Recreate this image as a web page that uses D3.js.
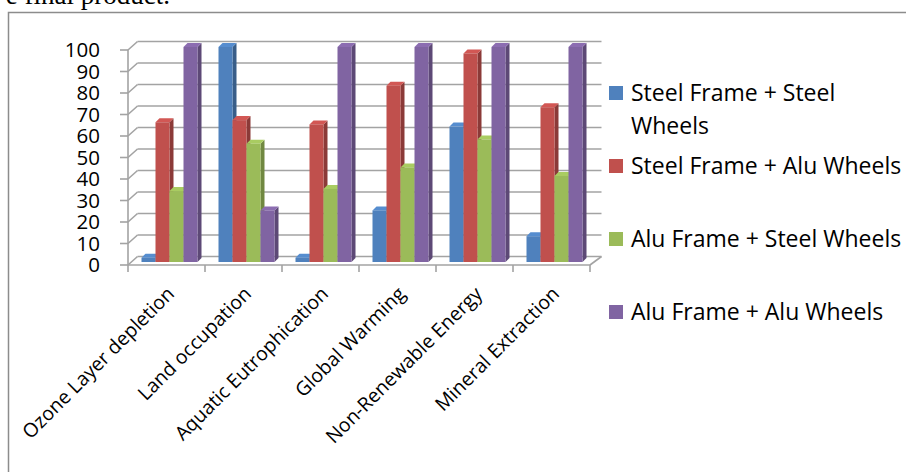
<!DOCTYPE html>
<html>
<head>
<meta charset="utf-8">
<script src="https://cdn.jsdelivr.net/npm/d3@7/dist/d3.min.js"></script>
<style>
  body { margin: 0; background: #fff; }
  svg { display: block; font-family: "Open Sans", sans-serif; }
</style>
</head>
<body>
<svg id="chart"></svg>
<script>
// chart values
var categories = ['Ozone Layer depletion', 'Land occupation', 'Aquatic Eutrophication',
  'Global Warming', 'Non-Renewable Energy', 'Mineral Extraction'];
var seriesNames = ['Steel Frame + Steel Wheels', 'Steel Frame + Alu Wheels',
  'Alu Frame + Steel Wheels', 'Alu Frame + Alu Wheels'];
var steelSteel = [2, 100, 2, 24, 63, 12];
var steelAlu = [65, 66, 64, 82, 97, 72];
var aluSteel = [33, 55, 34, 44, 57, 40];
var aluAlu = [100, 24, 100, 100, 100, 100];
var yTicks = [0, 10, 20, 30, 40, 50, 60, 70, 80, 90, 100];
var legendLines = [['Steel Frame + Steel', 'Wheels'], ['Steel Frame + Alu Wheels'],
  ['Alu Frame + Steel Wheels'], ['Alu Frame + Alu Wheels']];
var colors = ['#4f81bd', '#c0504d', '#9bbb59', '#8064a2'];

var seriesValues = [steelSteel, steelAlu, aluSteel, aluAlu];

var canvasWidth = 906;
var canvasHeight = 472;
var svg = d3.select('#chart')
  .attr('width', canvasWidth)
  .attr('height', canvasHeight);

// page text above the chart frame (cut off at the top)
svg.append('text')
  .attr('x', 170)
  .attr('y', 4)
  .attr('text-anchor', 'end')
  .style('font-family', '"Liberation Serif", serif')
  .style('font-size', '27px')
  .text('e final product.');

// chart frame, runs off the right and bottom
svg.append('rect')
  .attr('x', 8.5).attr('y', 12.5)
  .attr('width', 1000).attr('height', 1000)
  .attr('fill', 'none')
  .attr('stroke', '#8c8c8c')
  .attr('stroke-width', 1.5);

var xScale = d3.scaleBand().domain(categories).range([128, 590]);
var xSub = d3.scaleBand().domain(seriesNames).range([0, xScale.bandwidth()])
  .paddingInner(0).paddingOuter(0.75);
var yScale = d3.scaleLinear().domain([0, 100]).range([265, 50]);

// 3d offsets: back wall, bar front plane, bar depth
var back = { x: 9.5, y: -8.5 };
var barOff = { x: 3, y: -3 };
var depth = { x: 4, y: -4 };

var x0 = xScale.range()[0];
var x1 = xScale.range()[1];
var grid = svg.append('g')
  .attr('stroke', '#a3a3a3')
  .attr('stroke-width', 1.6)
  .attr('fill', 'none');

// back wall gridlines
grid.selectAll('.hline')
  .data(yTicks)
  .enter().append('line')
  .attr('x1', x0 + back.x)
  .attr('x2', x1 + back.x + 2)
  .attr('y1', function(d) { return yScale(d) + back.y; })
  .attr('y2', function(d) { return yScale(d) + back.y; });

// side wall diagonals
grid.selectAll('.dline')
  .data(yTicks)
  .enter().append('line')
  .attr('x1', x0)
  .attr('x2', x0 + back.x)
  .attr('y1', function(d) { return yScale(d); })
  .attr('y2', function(d) { return yScale(d) + back.y; });

// y axis line and ticks
grid.append('line')
  .attr('x1', x0).attr('x2', x0)
  .attr('y1', yScale(100)).attr('y2', yScale(0));
grid.selectAll('.ytick')
  .data(yTicks)
  .enter().append('line')
  .attr('x1', x0 - 8).attr('x2', x0)
  .attr('y1', function(d) { return yScale(d); })
  .attr('y2', function(d) { return yScale(d); });

// floor
grid.append('line')
  .attr('x1', x0).attr('x2', x1)
  .attr('y1', yScale(0)).attr('y2', yScale(0));
grid.append('line')
  .attr('x1', x1).attr('x2', x1 + back.x + 2)
  .attr('y1', yScale(0)).attr('y2', yScale(0) + back.y);

// category tick marks
var tickXs = categories.map(function(c) { return xScale(c); }).concat([x1]);
grid.selectAll('.xtick')
  .data(tickXs)
  .enter().append('line')
  .attr('x1', function(d) { return d; })
  .attr('x2', function(d) { return d; })
  .attr('y1', yScale(0))
  .attr('y2', yScale(0) + 7);

// y tick labels
svg.selectAll('.ylabel')
  .data(yTicks)
  .enter().append('text')
  .attr('x', 100)
  .attr('y', function(d) { return yScale(d); })
  .attr('dy', '0.36em')
  .attr('text-anchor', 'end')
  .style('font-size', '20.5px')
  .style('fill', '#000')
  .text(function(d) { return d; });

// bars
var bars = [];
categories.forEach(function(c, ci) {
  seriesNames.forEach(function(s, si) {
    bars.push({ cat: c, series: s, si: si, value: seriesValues[si][ci] });
  });
});

var barG = svg.selectAll('.bar')
  .data(bars)
  .enter().append('g')
  .attr('class', 'bar');

function geom(d) {
  var bx = xScale(d.cat) + xSub(d.series) + barOff.x;
  var w = xSub.bandwidth();
  var top = yScale(d.value) + barOff.y;
  var bot = yScale(0) + barOff.y;
  return { bx: bx, w: w, top: top, bot: bot };
}

barG.append('polygon')
  .attr('points', function(d) {
    var g = geom(d);
    return [[g.bx + g.w, g.top], [g.bx + g.w + depth.x, g.top + depth.y],
      [g.bx + g.w + depth.x, g.bot + depth.y], [g.bx + g.w, g.bot]].join(' ');
  })
  .attr('fill', function(d) { return d3.color(colors[d.si]).darker(0.9); });

barG.append('polygon')
  .attr('points', function(d) {
    var g = geom(d);
    return [[g.bx, g.top], [g.bx + depth.x, g.top + depth.y],
      [g.bx + g.w + depth.x, g.top + depth.y], [g.bx + g.w, g.top]].join(' ');
  })
  .attr('fill', function(d) { return d3.color(colors[d.si]).brighter(0.25); });

barG.append('rect')
  .attr('x', function(d) { return geom(d).bx; })
  .attr('y', function(d) { return geom(d).top; })
  .attr('width', function(d) { return geom(d).w; })
  .attr('height', function(d) { var g = geom(d); return g.bot - g.top; })
  .attr('fill', function(d) { return colors[d.si]; });

// category labels
svg.selectAll('.xlabel')
  .data(categories)
  .enter().append('text')
  .attr('text-anchor', 'end')
  .attr('transform', function(d) {
    return 'translate(' + (xScale(d) + xScale.bandwidth() / 2 + 9) + ',295) rotate(-45)';
  })
  .style('font-size', '19.5px')
  .text(function(d) { return d; });

// legend
var legend = svg.selectAll('.legend')
  .data(seriesNames)
  .enter().append('g')
  .attr('class', 'legend')
  .attr('transform', function(d, i) { return 'translate(609,' + (93 + i * 73) + ')'; });

legend.append('rect')
  .attr('x', 0).attr('y', -7)
  .attr('width', 14).attr('height', 14)
  .attr('fill', function(d, i) { return colors[i]; });

legend.append('text')
  .attr('x', 22)
  .attr('y', 8)
  .style('font-size', '23px')
  .selectAll('tspan')
  .data(function(d, i) { return legendLines[i]; })
  .enter().append('tspan')
  .attr('x', 22)
  .attr('dy', function(d, i) { return i === 0 ? 0 : 32.7; })
  .text(function(d) { return d; });
</script>
</body>
</html>
